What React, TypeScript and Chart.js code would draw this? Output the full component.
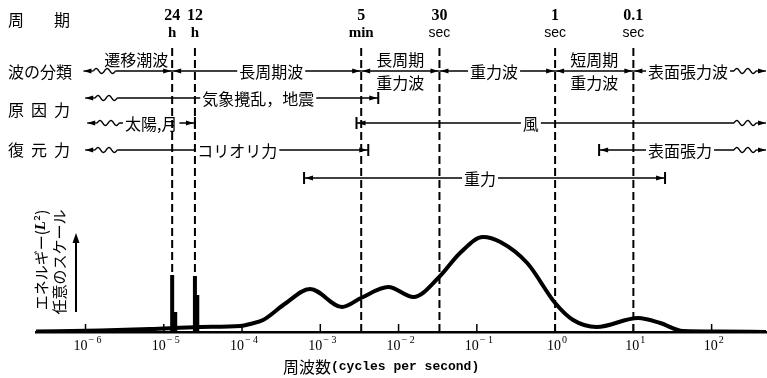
import React, { useEffect, useRef } from "react";
import { Chart, registerables } from "chart.js";

Chart.register(...registerables);

// ---------- data ----------
const FREQUENCY = [
  2.3e-7, 1.55e-6, 6.7e-6, 2.9e-5, 9.5e-5, 1.27e-4, 1.86e-4, 3.5e-4, 7.4e-4,
  1.9e-3, 3.3e-3, 7.4e-3, 1.55e-2, 3.3e-2, 6.1e-2, 0.12, 0.2, 0.44,
  1, 1.7, 3.4, 11.5, 22, 43, 128, 490,
];
const ENERGY = [
  0.5, 1.5, 3, 5, 6, 8, 12, 28, 43, 25, 34, 45, 35, 55, 79, 95, 90, 69, 29,
  12, 5, 14, 9, 1, 0.5, 0,
];
const TIDE_SPIKE_FREQUENCY = [1.28e-5, 1.4e-5, 2.5e-5, 2.68e-5];
const TIDE_SPIKE_ENERGY = [57, 20, 56, 37];

const PERIOD_FREQUENCY = [1.28e-5, 2.5e-5, 3.33e-3, 3.33e-2, 1, 10];
const PERIOD_NUMBER = ["24", "12", "5", "30", "1", "0.1"];
const PERIOD_UNIT = ["h", "h", "min", "sec", "sec", "sec"];

const TICK_VALUES = [1e-6, 1e-5, 1e-4, 1e-3, 1e-2, 1e-1, 1, 10, 100];
const TICK_EXPONENTS = ["-6", "-5", "-4", "-3", "-2", "-1", "0", "1", "2"];

const X_MIN = 2.33e-7;
const X_MAX = 495;
const Y_MAX = 292;
const LINE_TOP = 288;

const [P24, P12, P5M, P30S, P1S, P01S] = PERIOD_FREQUENCY;
const EDGE = Infinity;

type End = "wave" | "arrow" | "bar";
type Range = {
  row: number; from: number; to: number; s: End; e: End;
  label: string; label2?: string; at?: number; mode: "inline" | "above" | "split";
};
const RANGES: Range[] = [
  { row: 0, from: 9.4e-7, to: P24, s: "wave", e: "arrow", label: "遷移潮波", at: 4.45e-6, mode: "above" },
  { row: 0, from: P24, to: P5M, s: "arrow", e: "arrow", label: "長周期波", at: 2.36e-4, mode: "inline" },
  { row: 0, from: P5M, to: P30S, s: "arrow", e: "arrow", label: "長周期", label2: "重力波", mode: "split" },
  { row: 0, from: P30S, to: P1S, s: "arrow", e: "arrow", label: "重力波", at: 0.166, mode: "inline" },
  { row: 0, from: P1S, to: P01S, s: "arrow", e: "arrow", label: "短周期", label2: "重力波", mode: "split" },
  { row: 0, from: P01S, to: EDGE, s: "arrow", e: "wave", label: "表面張力波", at: 50, mode: "inline" },
  { row: 1, from: 9.9e-7, to: 5.5e-3, s: "wave", e: "bar", label: "気象攪乱，地震", at: 1.61e-4, mode: "inline" },
  { row: 2, from: 1.05e-6, to: P12, s: "wave", e: "bar", label: "太陽,月", at: 6.9e-6, mode: "inline" },
  { row: 2, from: 2.9e-3, to: EDGE, s: "bar", e: "wave", label: "風", at: 0.49, mode: "inline" },
  { row: 3, from: 9.9e-7, to: 4.1e-3, s: "wave", e: "bar", label: "コリオリ力", at: 8.7e-5, mode: "inline" },
  { row: 3, from: 3.65, to: EDGE, s: "bar", e: "wave", label: "表面張力", at: 39.5, mode: "inline" },
  { row: 4, from: 6.2e-4, to: 25.4, s: "bar", e: "bar", label: "重力", at: 0.11, mode: "inline" },
];
const ROW_Y = [71, 98, 123, 150, 178];

const CJK = '"Noto Sans CJK JP", sans-serif';
const SERIF = '"Liberation Serif", "DejaVu Serif", serif';

function wave(ctx: CanvasRenderingContext2D, x0: number, x1: number, y: number) {
  ctx.beginPath();
  const n = 30;
  for (let i = 0; i <= n; i++) {
    const t = i / n;
    const x = x0 + (x1 - x0) * t;
    const yy = y - 2.5 * Math.sin(t * Math.PI * 4);
    if (i === 0) ctx.moveTo(x, yy);
    else ctx.lineTo(x, yy);
  }
  ctx.stroke();
}
function seg(ctx: CanvasRenderingContext2D, x0: number, x1: number, y: number) {
  ctx.beginPath();
  ctx.moveTo(x0, y);
  ctx.lineTo(x1, y);
  ctx.stroke();
}
function arrow(ctx: CanvasRenderingContext2D, tip: number, y: number, dir: number) {
  ctx.beginPath();
  ctx.moveTo(tip, y);
  ctx.lineTo(tip - dir * 8, y - 2.5);
  ctx.lineTo(tip - dir * 8, y + 2.5);
  ctx.closePath();
  ctx.fill();
}
function bar(ctx: CanvasRenderingContext2D, x: number, y: number) {
  ctx.fillRect(x - 1, y - 6, 2, 12);
}

const annotations = {
  id: "annotations",
  beforeDatasetsDraw(chart: any) {
    const ctx: CanvasRenderingContext2D = chart.ctx;
    const xs = chart.scales.x;
    const X = (f: number) => (f === EDGE ? chart.width - 1 : xs.getPixelForValue(f));
    ctx.save();
    ctx.fillStyle = "#000";
    ctx.strokeStyle = "#000";
    ctx.lineWidth = 1.3;
    ctx.textAlign = "center";
    ctx.textBaseline = "middle";

    ctx.font = `16px ${CJK}`;
    ctx.textAlign = "left";
    ctx.fillText("周", 8, 20);
    ctx.fillText("期", 54, 20);
    ctx.fillText("波の分類", 8, 72);
    ["原", "因", "力"].forEach((c, i) => ctx.fillText(c, 8 + i * 23, 110));
    ["復", "元", "力"].forEach((c, i) => ctx.fillText(c, 8 + i * 23, 150));
    ctx.textAlign = "center";

    RANGES.forEach((r) => {
      const y = ROW_Y[r.row];
      const x1 = X(r.from);
      const x2 = X(r.to);
      let a = x1;
      let b = x2;
      if (r.s === "wave") {
        seg(ctx, x1, x1 + 10, y);
        wave(ctx, x1 + 10, x1 + 32, y);
        a = x1 + 32;
      }
      if (r.e === "wave") {
        seg(ctx, x2 - 10, x2, y);
        wave(ctx, x2 - 32, x2 - 10, y);
        b = x2 - 32;
      }
      seg(ctx, a, b, y);
      if (r.s === "bar") { bar(ctx, x1, y); arrow(ctx, x1 + 1, y, -1); }
      else if (r.s === "arrow") arrow(ctx, x1 + 1, y, -1);
      else arrow(ctx, x1, y, -1);
      if (r.e === "bar") { bar(ctx, x2, y); arrow(ctx, x2 - 1, y, 1); }
      else if (r.e === "arrow") arrow(ctx, x2 - 1, y, 1);
      else arrow(ctx, x2, y, 1);

      ctx.font = `16px ${CJK}`;
      const cx = r.at !== undefined ? X(r.at) : (x1 + x2) / 2;
      if (r.mode === "inline") {
        const w = ctx.measureText(r.label).width;
        ctx.fillStyle = "#fff";
        ctx.fillRect(cx - w / 2 - 2, y - 9, w + 4, 18);
        ctx.fillStyle = "#000";
        ctx.fillText(r.label, cx, y + 1);
      } else if (r.mode === "above") {
        ctx.fillText(r.label, cx, y - 11);
      } else {
        ctx.fillText(r.label, cx, y - 11);
        if (r.label2) ctx.fillText(r.label2, cx, y + 12);
      }
    });

    PERIOD_FREQUENCY.forEach((f, i) => {
      const x = X(f);
      ctx.font = `bold 16px ${SERIF}`;
      ctx.fillText(PERIOD_NUMBER[i], x, 16);
      if (PERIOD_UNIT[i] === "sec") ctx.font = `14px "Liberation Sans", sans-serif`;
      else ctx.font = `bold 15px ${SERIF}`;
      ctx.fillText(PERIOD_UNIT[i], x, 33);
    });

    const drawRot = (cx: number, cy: number, parts: { t: string; f: string }[]) => {
      ctx.save();
      ctx.translate(cx, cy);
      ctx.rotate(-Math.PI / 2);
      ctx.textAlign = "left";
      let total = 0;
      parts.forEach((p) => { ctx.font = p.f; total += ctx.measureText(p.t).width; });
      let px = -total / 2;
      parts.forEach((p) => { ctx.font = p.f; ctx.fillText(p.t, px, 0); px += ctx.measureText(p.t).width; });
      ctx.restore();
    };
    drawRot(41, 260, [
      { t: "エネルギー(", f: `15px ${CJK}` },
      { t: "L", f: `italic bold 15px ${SERIF}` },
      { t: "²)", f: `15px ${CJK}` },
    ]);
    drawRot(59, 262, [{ t: "任意のスケール", f: `15px ${CJK}` }]);
    ctx.lineWidth = 2;
    ctx.beginPath();
    ctx.moveTo(76, 312);
    ctx.lineTo(76, 240);
    ctx.stroke();
    ctx.beginPath();
    ctx.moveTo(76, 233);
    ctx.lineTo(72.5, 243);
    ctx.lineTo(79.5, 243);
    ctx.closePath();
    ctx.fill();
    ctx.restore();
  },
  afterDraw(chart: any) {
    const ctx: CanvasRenderingContext2D = chart.ctx;
    const xs = chart.scales.x;
    const area = chart.chartArea;
    ctx.save();
    ctx.strokeStyle = "#000";
    ctx.fillStyle = "#000";
    ctx.lineWidth = 1.5;
    ctx.textBaseline = "alphabetic";
    TICK_VALUES.forEach((v, i) => {
      const x = xs.getPixelForValue(v);
      ctx.beginPath();
      ctx.moveTo(x, area.bottom);
      ctx.lineTo(x, area.bottom - 8);
      ctx.stroke();
      // tick label: "10" with raised exponent
      ctx.font = `14px ${SERIF}`;
      const base = "10";
      const wb = ctx.measureText(base).width;
      ctx.font = `10px ${SERIF}`;
      const exp = TICK_EXPONENTS[i].replace("-", "− ");
      const we = ctx.measureText(exp).width;
      const left = x + 2 - (wb + we + 1) / 2;
      ctx.font = `14px ${SERIF}`;
      ctx.textAlign = "left";
      ctx.fillText(base, left, area.bottom + 18);
      ctx.font = `10px ${SERIF}`;
      ctx.fillText(exp, left + wb + 1, area.bottom + 11);
    });
    ctx.textBaseline = "middle";
    ctx.textAlign = "left";
    ctx.font = `16px ${CJK}`;
    const t1 = "周波数";
    const x0 = 283;
    ctx.fillText(t1, x0, 367);
    const w1 = ctx.measureText(t1).width;
    ctx.font = `bold 13px "Liberation Mono", monospace`;
    ctx.fillText("(cycles per second)", x0 + w1, 367);
    ctx.restore();
  },
};

export default function App() {
  const ref = useRef<HTMLCanvasElement>(null);
  useEffect(() => {
    const curve = FREQUENCY.map((x, i) => ({ x, y: ENERGY[i] }));
    const spikes: any[] = [];
    TIDE_SPIKE_FREQUENCY.forEach((f, i) => {
      spikes.push({ x: f, y: 0 }, { x: f, y: TIDE_SPIKE_ENERGY[i] }, { x: f, y: null });
    });
    const dashed: any[] = [];
    PERIOD_FREQUENCY.forEach((f) => {
      dashed.push({ x: f, y: 0 }, { x: f, y: LINE_TOP }, { x: f, y: null });
    });
    const chart = new Chart(ref.current as HTMLCanvasElement, {
      type: "line",
      data: {
        datasets: [
          {
            data: curve as any,
            borderColor: "#000",
            borderWidth: 4,
            pointRadius: 0,
            cubicInterpolationMode: "monotone",
            borderCapStyle: "round",
            borderJoinStyle: "round",
            fill: false,
          },
          {
            data: spikes,
            borderColor: "#000",
            borderWidth: 4,
            pointRadius: 0,
            tension: 0,
            spanGaps: false,
            fill: false,
          },
          {
            data: dashed,
            borderColor: "#000",
            borderWidth: 2,
            borderDash: [8, 4],
            pointRadius: 0,
            tension: 0,
            spanGaps: false,
            fill: false,
          },
        ],
      },
      options: {
        animation: false,
        responsive: false,
        devicePixelRatio: 1,
        layout: { padding: { left: 36, right: 1, top: 40, bottom: 0 } },
        plugins: { legend: { display: false }, tooltip: { enabled: false } },
        scales: {
          x: {
            type: "logarithmic",
            min: X_MIN,
            max: X_MAX,
            bounds: "data",
            grid: { display: false, drawTicks: false },
            border: { display: true, color: "#000", width: 2.5 },
            ticks: { display: false, autoSkip: false, maxRotation: 0 },
            afterBuildTicks: (s: any) => {
              s.ticks = TICK_VALUES.map((value) => ({ value }));
            },
            afterFit: (s: any) => {
              s.height = 46;
            },
          },
          y: { type: "linear", display: false, min: 0, max: Y_MAX },
        },
      },
      plugins: [annotations],
    } as any);
    return () => chart.destroy();
  }, []);
  return (
    <div style={{ position: "absolute", left: 0, top: 0, width: 767, height: 378, background: "#fff" }}>
      <canvas ref={ref} width={767} height={378} style={{ display: "block", width: 767, height: 378 }} />
    </div>
  );
}
